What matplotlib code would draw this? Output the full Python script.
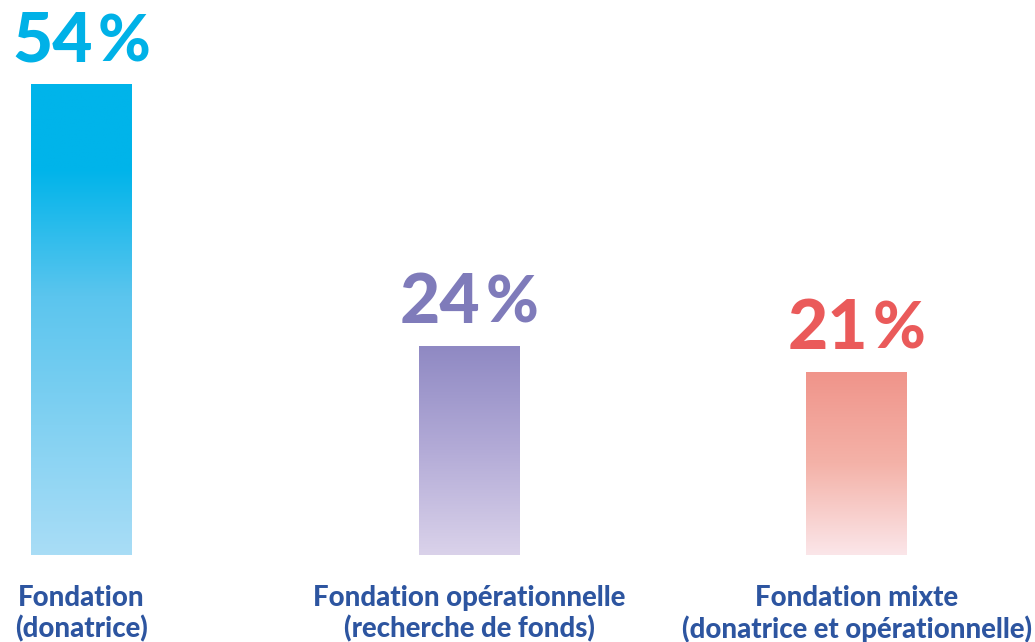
import matplotlib
matplotlib.use("Agg")
import matplotlib.pyplot as plt
import numpy as np
from matplotlib.colors import LinearSegmentedColormap
from matplotlib.transforms import offset_copy

categories = ["Fondation\n(donatrice)",
              "Fondation opérationnelle\n(recherche de fonds)",
              "Fondation mixte\n(donatrice et opérationnelle)"]
values = [54, 24, 21]
value_labels = ["54", "24", "21"]
text_colors = ["#00B1E7", "#7F7BBA", "#EA5A5A"]
grad_stops = [
    [(0.0, "#A9DDF6"), (0.55, "#5BC5EE"), (0.82, "#00B4EA"), (1.0, "#00B4EA")],
    [(0.0, "#DAD2EA"), (0.5, "#B3ABD7"), (1.0, "#8F89C3")],
    [(0.0, "#FBE6E9"), (0.5, "#F4B2A8"), (1.0, "#F0948A")],
]
label_color = "#2D55A0"

FONT = "Lato"

fig = plt.figure(figsize=(10.35, 6.42), dpi=100)
W, H = 1035, 642
bottom_px = 555
px_per_unit = 8.72
ymax = 60
ax = fig.add_axes([0, (H - bottom_px) / H, 1, ymax * px_per_unit / H])
spacing = 387.5
c0 = 81.5
ax.set_xlim(-c0 / spacing, (W - c0) / spacing)
ax.set_ylim(0, ymax)
ax.axis("off")

x = np.arange(len(values))
bars = ax.bar(x, values, width=0.26, color="none", edgecolor="none")

grad = np.linspace(0, 1, 256).reshape(-1, 1)
for rect, stops in zip(bars, grad_stops):
    cmap = LinearSegmentedColormap.from_list("g", stops)
    x0, y0 = rect.get_x(), rect.get_y()
    w, h = rect.get_width(), rect.get_height()
    im = ax.imshow(grad, cmap=cmap, extent=[x0, x0 + w, y0, y0 + h],
                   origin="lower", aspect="auto", zorder=2)
    im.set_clip_path(rect)

ax.set_xlim(-c0 / spacing, (W - c0) / spacing)
ax.set_ylim(0, ymax)

GAP = 5
num_texts = []
for xi, v, lab, col in zip(x, values, value_labels, text_colors):
    tr = offset_copy(ax.transData, fig=fig, x=0, y=23 * 72 / 100, units="points")
    t1 = ax.text(xi, v, lab, transform=tr, ha="right", va="baseline",
                 fontsize=50, fontweight=900, family=FONT, color=col, clip_on=False)
    tr2 = offset_copy(ax.transData, fig=fig, x=GAP * 72 / 100, y=23 * 72 / 100, units="points")
    t2 = ax.text(xi, v, "%", transform=tr2, ha="left", va="baseline",
                 fontsize=46, fontweight=900, family=FONT, color=col, clip_on=False)
    num_texts.append((xi, v, t1, t2))

fig.canvas.draw()
r = fig.canvas.get_renderer()
for xi, v, t1, t2 in num_texts:
    e1 = t1.get_window_extent(r)
    e2 = t2.get_window_extent(r)
    cx = ax.transData.transform((xi, v))[0]
    shift = cx - (e1.x0 + e2.x1) / 2
    t1.set_transform(offset_copy(ax.transData, fig=fig, x=shift * 72 / 100, y=23 * 72 / 100, units="points"))
    t2.set_transform(offset_copy(ax.transData, fig=fig, x=(shift + GAP) * 72 / 100, y=23 * 72 / 100, units="points"))

for xi, cat in zip(x, categories):
    tr = offset_copy(ax.transData, fig=fig, x=0, y=-30 * 72 / 100, units="points")
    ax.text(xi, 0, cat, transform=tr, ha="center", va="top", fontsize=19.8,
            fontweight=900, family=FONT, color=label_color, linespacing=1.2,
            clip_on=False)

fig.savefig("out.png", dpi=100)
